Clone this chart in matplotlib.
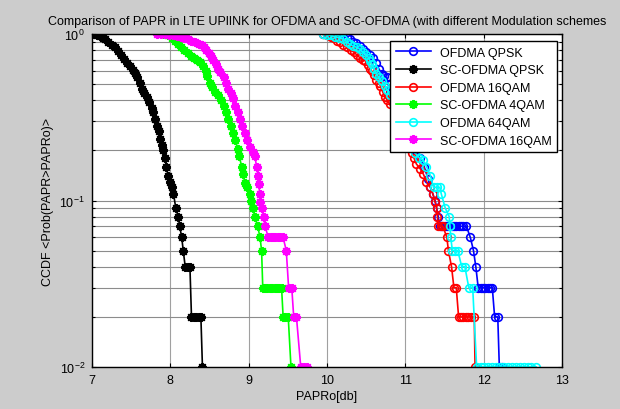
#!/usr/bin/env python3
import matplotlib
matplotlib.use("Agg")
import matplotlib.pyplot as plt
from matplotlib.ticker import LogLocator, NullFormatter

plt.rcParams['font.family'] = ['Liberation Sans', 'DejaVu Sans']
plt.rcParams['mathtext.default'] = 'regular'

TITLE = "Comparison of PAPR in LTE UPlINK for OFDMA and SC-OFDMA (with different Modulation schemes"

# OFDMA QPSK
ofdma_qpsk_x = [9.95, 10.00, 10.05, 10.10, 10.15, 10.20, 10.25, 10.29, 10.33, 10.37,
                10.42, 10.46, 10.50, 10.55, 10.59, 10.62, 10.66, 10.70, 10.73, 10.76,
                10.78, 10.80, 10.86, 10.92, 10.98, 11.05, 11.12, 11.19, 11.24, 11.29,
                11.32, 11.35, 11.38, 11.40, 11.42, 11.44, 11.47, 11.50, 11.53, 11.56,
                11.59, 11.62, 11.65, 11.68, 11.71, 11.74, 11.78, 11.83, 11.87, 11.90,
                11.93, 11.96, 11.99, 12.02, 12.05, 12.08, 12.11, 12.14, 12.18, 12.20,
                12.24]
ofdma_qpsk_y = [1.00, 0.995, 0.99, 0.98, 0.97, 0.96, 0.955, 0.93, 0.90, 0.88,
                0.85, 0.81, 0.78, 0.75, 0.72, 0.67, 0.62, 0.575, 0.56, 0.55,
                0.50, 0.457, 0.40, 0.34, 0.28, 0.23, 0.20, 0.18, 0.16, 0.135,
                0.12, 0.11, 0.10, 0.09, 0.08, 0.07, 0.07, 0.07, 0.07, 0.07,
                0.07, 0.07, 0.07, 0.07, 0.07, 0.07, 0.07, 0.06, 0.05, 0.04,
                0.03, 0.03, 0.03, 0.03, 0.03, 0.03, 0.03, 0.02, 0.02, 0.01,
                0.01]

# SC-OFDMA QPSK
sc_qpsk_x = [7.02, 7.06, 7.10, 7.14, 7.17, 7.21, 7.25, 7.29, 7.33, 7.37,
             7.41, 7.45, 7.49, 7.52, 7.55, 7.58, 7.61, 7.64, 7.67, 7.70,
             7.73, 7.76, 7.78, 7.80, 7.83, 7.85, 7.87, 7.89, 7.91, 7.93,
             7.95, 7.97, 7.99, 8.02, 8.04, 8.07, 8.10, 8.12, 8.145, 8.165,
             8.19, 8.22, 8.25, 8.27, 8.30, 8.33, 8.36, 8.39, 8.41]
sc_qpsk_y = [1.00, 0.99, 0.97, 0.95, 0.93, 0.89, 0.86, 0.83, 0.79, 0.75,
             0.71, 0.67, 0.64, 0.61, 0.58, 0.55, 0.51, 0.47, 0.44, 0.42,
             0.39, 0.36, 0.34, 0.31, 0.28, 0.26, 0.235, 0.215, 0.20, 0.18,
             0.16, 0.14, 0.13, 0.12, 0.11, 0.09, 0.08, 0.07, 0.06, 0.05,
             0.04, 0.04, 0.04, 0.02, 0.02, 0.02, 0.02, 0.02, 0.01]

# OFDMA 16QAM
ofdma_16_x = [9.95, 10.00, 10.05, 10.09, 10.13, 10.17, 10.21, 10.25, 10.30, 10.34,
              10.38, 10.42, 10.46, 10.49, 10.52, 10.55, 10.57, 10.60, 10.63, 10.66,
              10.68, 10.71, 10.74, 10.77, 10.80, 10.87, 10.94, 11.01, 11.08, 11.11,
              11.14, 11.19, 11.23, 11.27, 11.32, 11.35, 11.38, 11.40, 11.41, 11.42,
              11.45, 11.48, 11.53, 11.55, 11.59, 11.62, 11.65, 11.68, 11.71, 11.74,
              11.77, 11.80, 11.84, 11.88, 11.89]
ofdma_16_y = [1.00, 0.98, 0.96, 0.94, 0.91, 0.89, 0.86, 0.83, 0.80, 0.78,
              0.75, 0.72, 0.70, 0.69, 0.65, 0.62, 0.60, 0.57, 0.53, 0.51,
              0.49, 0.45, 0.42, 0.40, 0.38, 0.32, 0.27, 0.23, 0.194, 0.18,
              0.166, 0.155, 0.144, 0.13, 0.12, 0.11, 0.098, 0.09, 0.08, 0.07,
              0.07, 0.07, 0.06, 0.05, 0.04, 0.03, 0.03, 0.02, 0.02, 0.02,
              0.02, 0.02, 0.02, 0.02, 0.01]

# SC-OFDMA 4QAM
sc_4_x = [7.92, 7.97, 8.02, 8.06, 8.10, 8.14, 8.18, 8.22, 8.26, 8.30,
          8.34, 8.38, 8.42, 8.45, 8.47, 8.50, 8.53, 8.57, 8.61, 8.65,
          8.68, 8.71, 8.74, 8.77, 8.80, 8.83, 8.86, 8.88, 8.91, 8.93,
          8.95, 8.98, 9.02, 9.03, 9.05, 9.08, 9.115, 9.145, 9.165, 9.18,
          9.21, 9.24, 9.27, 9.30, 9.33, 9.36, 9.39, 9.42, 9.44, 9.47,
          9.505, 9.54]
sc_4_y = [1.00, 0.98, 0.95, 0.91, 0.87, 0.83, 0.80, 0.77, 0.74, 0.72,
          0.70, 0.68, 0.64, 0.60, 0.56, 0.51, 0.48, 0.45, 0.43, 0.40,
          0.37, 0.34, 0.31, 0.28, 0.256, 0.23, 0.205, 0.185, 0.16, 0.145,
          0.128, 0.12, 0.11, 0.10, 0.09, 0.08, 0.07, 0.06, 0.05, 0.03,
          0.03, 0.03, 0.03, 0.03, 0.03, 0.03, 0.03, 0.03, 0.02, 0.02,
          0.02, 0.01]

# OFDMA 64QAM
ofdma_64_x = [9.95, 10.00, 10.05, 10.10, 10.15, 10.21, 10.25, 10.29, 10.33, 10.38,
              10.42, 10.46, 10.50, 10.53, 10.55, 10.57, 10.60, 10.63, 10.66, 10.70,
              10.74, 10.77, 10.80, 10.87, 10.94, 11.01, 11.07, 11.12, 11.18, 11.23,
              11.27, 11.32, 11.36, 11.40, 11.44, 11.46, 11.51, 11.56, 11.57, 11.58,
              11.60, 11.63, 11.67, 11.72, 11.76, 11.81, 11.86, 11.91, 11.96, 12.01,
              12.06, 12.11, 12.16, 12.21, 12.26, 12.31, 12.36, 12.41, 12.46, 12.51,
              12.56, 12.61, 12.67]
ofdma_64_y = [1.00, 0.99, 0.98, 0.965, 0.95, 0.93, 0.90, 0.87, 0.85, 0.83,
              0.81, 0.78, 0.75, 0.72, 0.69, 0.66, 0.62, 0.575, 0.55, 0.52,
              0.49, 0.46, 0.43, 0.36, 0.30, 0.25, 0.21, 0.194, 0.18, 0.174,
              0.16, 0.141, 0.12, 0.12, 0.12, 0.109, 0.09, 0.08, 0.07, 0.06,
              0.05, 0.05, 0.05, 0.04, 0.04, 0.03, 0.03, 0.01, 0.01, 0.01,
              0.01, 0.01, 0.01, 0.01, 0.01, 0.01, 0.01, 0.01, 0.01, 0.01,
              0.01, 0.01, 0.01]

# SC-OFDMA 16QAM
sc_16_x = [7.83, 7.88, 7.93, 7.98, 8.03, 8.08, 8.13, 8.18, 8.22, 8.27,
           8.31, 8.36, 8.40, 8.43, 8.46, 8.49, 8.52, 8.55, 8.58, 8.61,
           8.64, 8.68, 8.71, 8.74, 8.77, 8.80, 8.83, 8.86, 8.89, 8.92,
           8.95, 8.98, 9.02, 9.05, 9.08, 9.10, 9.12, 9.13, 9.14, 9.15,
           9.17, 9.19, 9.21, 9.25, 9.28, 9.31, 9.34, 9.37, 9.40, 9.44,
           9.48, 9.51, 9.55, 9.575, 9.61, 9.665, 9.70, 9.74]
sc_16_y = [1.00, 1.00, 0.995, 0.99, 0.98, 0.97, 0.955, 0.94, 0.93, 0.91,
           0.89, 0.87, 0.855, 0.83, 0.80, 0.77, 0.74, 0.70, 0.66, 0.62,
           0.59, 0.55, 0.51, 0.47, 0.44, 0.41, 0.37, 0.34, 0.31, 0.28,
           0.256, 0.23, 0.21, 0.195, 0.185, 0.16, 0.14, 0.125, 0.11, 0.098,
           0.09, 0.08, 0.07, 0.06, 0.06, 0.06, 0.06, 0.06, 0.06, 0.06,
           0.05, 0.03, 0.03, 0.02, 0.02, 0.01, 0.01, 0.01]

series = [
    ("OFDMA QPSK", ofdma_qpsk_x, ofdma_qpsk_y, (0, 0, 1), "o"),
    ("SC-OFDMA QPSK", sc_qpsk_x, sc_qpsk_y, (0, 0, 0), "*"),
    ("OFDMA 16QAM", ofdma_16_x, ofdma_16_y, (1, 0, 0), "o"),
    ("SC-OFDMA 4QAM", sc_4_x, sc_4_y, (0, 1, 0), "*"),
    ("OFDMA 64QAM", ofdma_64_x, ofdma_64_y, (0, 1, 1), "o"),
    ("SC-OFDMA 16QAM", sc_16_x, sc_16_y, (1, 0, 1), "*"),
]

fig = plt.figure(figsize=(6.2, 4.1), dpi=100, facecolor="#cccccc")
ax = fig.add_axes([92 / 620, 42 / 410, 470 / 620, 333 / 410])
ax.set_facecolor("white")

for label, xs, ys, col, mk in series:
    if mk == "o":
        ax.semilogy(xs, ys, color=col, lw=1.2, marker="o", ms=5.5,
                    mfc="none", mec=col, mew=1.2, label=label)
    else:
        ax.semilogy(xs, ys, color=col, lw=1.2, marker=(8, 2, 0), ms=6.5,
                    mec=col, mew=1.4, label=label)

ax.set_xlim(7, 13)
ax.set_ylim(0.01, 1)
ax.set_xticks([7, 8, 9, 10, 11, 12, 13])
ax.yaxis.set_major_locator(LogLocator(base=10))
ax.yaxis.set_minor_locator(LogLocator(base=10, subs=range(2, 10)))
ax.yaxis.set_minor_formatter(NullFormatter())

ax.grid(True, which="major", axis="x", color="#a0a0a0", lw=0.8, ls="-")
ax.grid(True, which="both", axis="y", color="#8c8c8c", lw=0.8, ls="-")
ax.set_axisbelow(True)

ax.tick_params(which="both", direction="in", top=True, right=True,
               labelsize=9, colors="black")
ax.tick_params(which="major", length=3, width=0.8, pad=5)
ax.tick_params(which="minor", length=2, width=0.8)
for sp in ax.spines.values():
    sp.set_linewidth(1.0)
    sp.set_color("black")

ax.set_title(TITLE, fontsize=9, pad=7)
ax.set_xlabel("PAPRo[db]", fontsize=9, labelpad=3)
ax.set_ylabel("CCDF <Prob(PAPR>PAPRo)>", fontsize=9, labelpad=4)

leg = ax.legend(loc="upper right", bbox_to_anchor=(557 / 620, 1 - 42 / 410),
                bbox_transform=fig.transFigure, borderaxespad=0,
                fancybox=False, framealpha=1, edgecolor="black",
                fontsize=9, handlelength=2.8, handletextpad=0.7,
                labelspacing=0.45, borderpad=0.45)
leg.get_frame().set_linewidth(1.0)
leg.set_zorder(10)

fig.savefig("out.png", dpi=100, facecolor=fig.get_facecolor())
